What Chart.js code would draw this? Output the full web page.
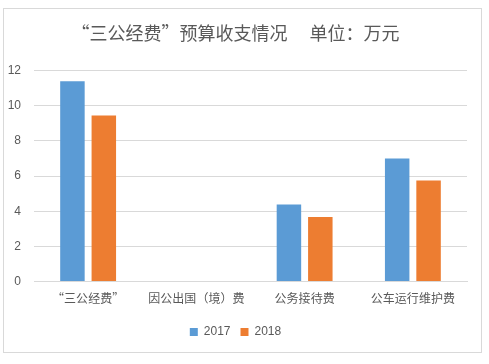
<!DOCTYPE html>
<html>
<head>
<meta charset="utf-8">
<script src="https://cdn.jsdelivr.net/npm/chart.js@4"></script>
<style>
  body { margin: 0; background: #fff; }
  #box {
    position: absolute; left: 3px; top: 8px;
    width: 477px; height: 343px;
    border: 1px solid #d9d9d9; background: #fff;
  }
</style>
</head>
<body>
<div id="box"><canvas id="myChart" width="477" height="343"></canvas></div>
<script>
const categories = ['“三公经费”', '因公出国（境）费', '公务接待费', '公车运行维护费'];
const values2017 = [11.4, 0, 4.38, 7.0];
const values2018 = [9.45, 0, 3.67, 5.75];
const yTicks = [0, 2, 4, 6, 8, 10, 12];

const grey = '#595959';
const cjk = '"Noto Sans CJK SC", "Noto Sans", sans-serif';

window.onload = function () {
    const ctx = document.getElementById('myChart').getContext('2d');

    new Chart(ctx, {
        type: 'bar',
        data: {
            labels: categories,
            datasets: [{
                label: '2017',
                data: values2017,
                backgroundColor: '#5B9BD5',
                borderWidth: 0
            }, {
                label: '2018',
                data: values2018,
                backgroundColor: '#ED7D31',
                borderWidth: 0
            }]
        },
        options: {
            responsive: false,
            animation: false,
            layout: { padding: { left: 0, right: 14, top: 0, bottom: 4 } },
            datasets: {
                bar: { categoryPercentage: 0.58, barPercentage: 0.78 }
            },
            plugins: {
                title: {
                    display: true,
                    text: '“三公经费”预算收支情况\u3000 单位：万元',
                    color: grey,
                    font: { family: cjk, size: 18, weight: 'normal' },
                    padding: { top: 13, bottom: 27 }
                },
                legend: {
                    position: 'bottom',
                    labels: {
                        color: grey,
                        boxWidth: 8,
                        boxHeight: 8,
                        padding: 10,
                        font: { family: '"Liberation Sans", sans-serif', size: 12 }
                    }
                },
                tooltip: { enabled: false }
            },
            scales: {
                x: {
                    grid: { display: false, drawTicks: false },
                    border: { color: '#d9d9d9' },
                    ticks: {
                        color: grey,
                        padding: 10,
                        maxRotation: 0,
                        font: { family: cjk, size: 12 }
                    }
                },
                y: {
                    min: 0,
                    max: 12,
                    afterFit: function (scale) { scale.width = 30; },
                    afterBuildTicks: function (scale) {
                        scale.ticks = yTicks.map(v => ({ value: v }));
                    },
                    grid: { color: '#d9d9d9', drawTicks: false },
                    border: { display: false },
                    ticks: {
                        color: grey,
                        padding: 13,
                        font: { family: '"Liberation Sans", sans-serif', size: 12 }
                    }
                }
            }
        }
    });
};
</script>
</body>
</html>
